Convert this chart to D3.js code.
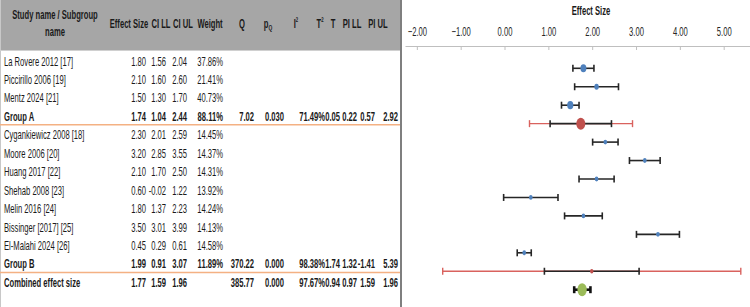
<!DOCTYPE html>
<html>
<head>
<meta charset="utf-8">
<script src="https://cdn.jsdelivr.net/npm/d3@7"></script>
<style>
body { margin: 0; background: #fff; }
svg { display: block; font-family: "Liberation Sans", Arial, sans-serif; }
</style>
</head>
<body>
<div id="chart"></div>
<script>
// rows of the table, top to bottom
var rowLabels = ["La Rovere 2012 [17]", "Piccirillo 2006 [19]", "Mentz 2024 [21]", "Group A",
    "Cygankiewicz 2008 [18]", "Moore 2006 [20]", "Huang 2017 [22]", "Shehab 2008 [23]",
    "Melin 2016 [24]", "Bissinger [2017] [25]", "El-Malahi 2024 [26]", "Group B", "Combined effect size"];
var rowType = ["study", "study", "study", "group", "study", "study", "study", "study",
    "study", "study", "study", "group", "total"];
var effect = [1.80, 2.10, 1.50, 1.74, 2.30, 3.20, 2.10, 0.60, 1.80, 3.50, 0.45, 1.99, 1.77];
var ciLow  = [1.56, 1.60, 1.30, 1.04, 2.01, 2.85, 1.70, -0.02, 1.37, 3.01, 0.29, 0.91, 1.59];
var ciHigh = [2.04, 2.60, 1.70, 2.44, 2.59, 3.55, 2.50, 1.22, 2.23, 3.99, 0.61, 3.07, 1.96];
var weight = [37.86, 21.41, 40.73, 88.11, 14.45, 14.37, 14.31, 13.92, 14.24, 14.13, 14.58, 11.89, null];
// heterogeneity stats, only for the group and total rows
var qStat  = {3: "7.02", 11: "370.22", 12: "385.77"};
var pQ     = {3: "0.030", 11: "0.000", 12: "0.000"};
var iSq    = {3: "71.49%", 11: "98.38%", 12: "97.67%"};
var tauSq  = {3: "0.05", 11: "1.74", 12: "0.94"};
var tau    = {3: "0.22", 11: "1.32", 12: "0.97"};
var piLow  = {3: 0.57, 11: -1.41, 12: 1.59};
var piHigh = {3: 2.92, 11: 5.39, 12: 1.96};
var axisTicks = [-2, -1, 0, 1, 2, 3, 4, 5];

var W = 750, H = 307;
var headH = 50, divX = 401;
var sx = 0.61;   // the screenshot text is squeezed sideways

var svg = d3.select("#chart").append("svg")
    .attr("width", W).attr("height", H);

// text helper: squeezed horizontally around its anchor point
function txt(g, x, y, s, anchor){
    return g.append("text")
        .attr("transform", "translate(" + x + "," + y + ") scale(" + sx + ",1)")
        .attr("text-anchor", anchor || "start")
        .text(s);
}

// header band + borders
svg.append("rect").attr("x", 0).attr("y", 0).attr("width", divX).attr("height", headH)
    .attr("fill", "#a6a6a6");
svg.append("line").attr("x1", 0.5).attr("x2", 0.5).attr("y1", 0).attr("y2", H)
    .attr("stroke", "#c8c8c8");
svg.append("line").attr("x1", 0).attr("x2", divX).attr("y1", headH + 0.5).attr("y2", headH + 0.5)
    .attr("stroke", "#d0d0d0");
svg.append("line").attr("x1", divX).attr("x2", divX).attr("y1", 0).attr("y2", H)
    .attr("stroke", "#7f7f7f").attr("stroke-width", 2);

var idx = d3.range(rowLabels.length);
var yText = d3.scalePoint().domain(idx).range([61, 61 + 18.45 * 12]);
var rowShift = 7.3; // forest rows sit a bit lower than the table text

// header labels
var head = svg.append("g").attr("font-weight", "bold").attr("font-size", 12.5).attr("fill", "#1a1a1a");
txt(head, 55, 19, "Study name / Subgroup", "middle");
txt(head, 55, 36, "name", "middle");
var colHeads = [["Effect Size", 129], ["CI LL", 161], ["CI UL", 183], ["Weight", 210], ["Q", 242], ["T", 333], ["PI LL", 352], ["PI UL", 378]];
colHeads.forEach(function(c){ txt(head, c[1], 28, c[0], "middle"); });
var pq = txt(head, 268, 28, "", "middle");
pq.append("tspan").text("p");
pq.append("tspan").attr("font-size", 8).attr("dy", 2).text("Q");
var i2 = txt(head, 296, 28, "", "middle");
i2.append("tspan").text("I");
i2.append("tspan").attr("font-size", 7).attr("dy", -6).text("2");
var t2 = txt(head, 320, 28, "", "middle");
t2.append("tspan").text("T");
t2.append("tspan").attr("font-size", 7).attr("dy", -6).text("2");

// table body
var cols = [
    {right: 146, v: function(i){ return effect[i].toFixed(2); }},
    {right: 166, v: function(i){ return ciLow[i].toFixed(2); }},
    {right: 187, v: function(i){ return ciHigh[i].toFixed(2); }},
    {right: 223, v: function(i){ return weight[i] == null ? "" : weight[i].toFixed(2) + "%"; }},
    {right: 254, v: function(i){ return qStat[i] || ""; }},
    {right: 284, v: function(i){ return pQ[i] || ""; }},
    {right: 325, v: function(i){ return iSq[i] || ""; }},
    {right: 340, v: function(i){ return tauSq[i] || ""; }},
    {right: 357, v: function(i){ return tau[i] || ""; }},
    {right: 375, v: function(i){ return piLow[i] == null ? "" : piLow[i].toFixed(2); }},
    {right: 398, v: function(i){ return piHigh[i] == null ? "" : piHigh[i].toFixed(2); }}
];

var body = svg.append("g").attr("font-size", 12.5).attr("fill", "#1a1a1a");
idx.forEach(function(i){
    var g = body.append("g").attr("font-weight", rowType[i] == "study" ? "normal" : "bold");
    var y = yText(i) + 4.5;
    txt(g, 4, y, rowLabels[i]);
    cols.forEach(function(c){ txt(g, c.right, y, c.v(i), "end"); });
});

// orange separators under the subgroup rows
svg.append("g").selectAll("line").data(idx.filter(function(i){ return rowType[i] == "group"; }))
    .enter().append("line")
    .attr("x1", 0).attr("x2", divX - 1)
    .attr("y1", function(i){ return yText(i) + 8.5; })
    .attr("y2", function(i){ return yText(i) + 8.5; })
    .attr("stroke", "#f4b183").attr("stroke-width", 1.5);

// forest plot
var x = d3.scaleLinear().domain([-2.27, 5.6]).range([405, 750]);
var axisY = 46;
var xAxis = d3.axisTop(x).tickValues(axisTicks).tickFormat(d3.format(".2f"))
    .tickSizeInner(-4).tickSizeOuter(0).tickPadding(10);
var ax = svg.append("g").attr("transform", "translate(0," + axisY + ")").call(xAxis);
ax.select(".domain").attr("stroke", "#bfbfbf");
ax.selectAll(".tick line").attr("stroke", "#bfbfbf");
ax.selectAll(".tick text").attr("font-size", 12.5).attr("fill", "#262626")
    .attr("font-family", "Liberation Sans, Arial, sans-serif")
    .attr("transform", "scale(" + sx + ",1)");

var ttl = svg.append("g").attr("font-weight", "bold").attr("font-size", 12.5).attr("fill", "#1a1a1a");
txt(ttl, 591, 15, "Effect Size", "middle");

var yRow = function(i){ return yText(i) + rowShift; };
var size = d3.scaleSqrt().domain([0, 100]).range([0, 6.4]);
var capH = 3.5;

function bar(g, i, lo, hi, color, w){
    g.append("line").attr("x1", x(lo)).attr("x2", x(hi)).attr("y1", yRow(i)).attr("y2", yRow(i))
        .attr("stroke", color).attr("stroke-width", w);
    [lo, hi].forEach(function(v){
        g.append("line").attr("x1", x(v)).attr("x2", x(v))
            .attr("y1", yRow(i) - capH).attr("y2", yRow(i) + capH)
            .attr("stroke", color).attr("stroke-width", w);
    });
}

var forest = svg.append("g");
idx.forEach(function(i){
    var g = forest.append("g");
    if (rowType[i] == "group") bar(g, i, piLow[i], piHigh[i], "#d9625e", 1.4);
    bar(g, i, ciLow[i], ciHigh[i], rowType[i] == "total" ? "#111" : "#262626", rowType[i] == "total" ? 2.6 : 1.6);
    var ry = rowType[i] == "total" ? 6.5 : size(weight[i]);
    var fill = rowType[i] == "study" ? "#4f81bd" : rowType[i] == "group" ? "#c0504d" : "#9bbb59";
    g.append("ellipse").attr("cx", x(effect[i])).attr("cy", yRow(i))
        .attr("rx", ry * (rowType[i] == "total" ? 0.72 : 0.75)).attr("ry", ry)
        .attr("fill", fill);
});
</script>
</body>
</html>
